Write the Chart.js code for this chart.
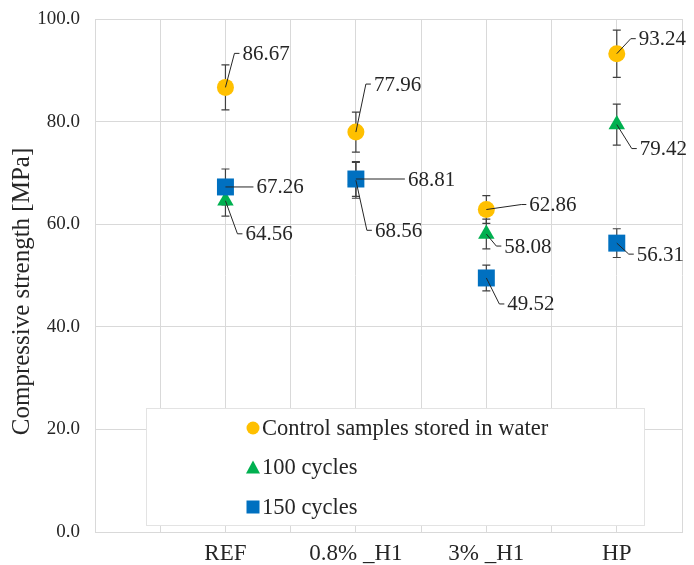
<!DOCTYPE html>
<html lang="en">
<head>
    <meta charset="UTF-8">
    <title>Compressive strength</title>
    <script src="https://cdn.jsdelivr.net/npm/chart.js"></script>
    <style>
        html, body { margin: 0; padding: 0; background: #fff; }
        .chart-box { position: relative; width: 694px; height: 565px; }
    </style>
</head>
<body>
    <div class="chart-box"><canvas id="strengthChart"></canvas></div>

    <script>
        // Data
        const categories = ['REF', '0.8% _H1', '3% _H1', 'HP'];
        const seriesNames = ['Control samples stored in water', '100 cycles', '150 cycles'];
        const controlValues = [86.67, 77.96, 62.86, 93.24];
        const cycles100Values = [64.56, 68.56, 58.08, 79.42];
        const cycles150Values = [67.26, 68.81, 49.52, 56.31];
        const controlErrors = [4.4, 3.9, 2.7, 4.6];
        const cycles100Errors = [3.0, 3.5, 2.9, 4.0];
        const cycles150Errors = [3.5, 3.4, 2.5, 2.8];
        const yTicks = [0, 20, 40, 60, 80, 100];
        const yTitle = 'Compressive strength [MPa]';

        // label placement (pixel offset of the value text from its marker)
        const controlLabelOffsets = [[17, -34], [18, -48], [43, -5], [22, -15]];
        const cycles100LabelOffsets = [[20, 33], [19, 50], [18, 12], [23, 24]];
        const cycles150LabelOffsets = [[31, 0], [52, 0], [21, 26], [20, 11]];

        const serif = '"Liberation Serif", "DejaVu Serif", serif';
        const textColor = '#262626';

        // categories sit on every second slot of a 0..9 linear axis
        const toPoints = (values, errors) =>
            values.map((v, i) => ({ x: (i + 1) * 2, y: v, err: errors[i] }));

        // Error bars - drawn under the markers
        const errorBarPlugin = {
            id: 'errorBars',
            beforeDatasetsDraw(chart) {
                const ctx = chart.ctx;
                const yScale = chart.scales.y;
                ctx.save();
                ctx.strokeStyle = '#404040';
                ctx.lineWidth = 1.2;
                chart.data.datasets.forEach((ds, di) => {
                    chart.getDatasetMeta(di).data.forEach((pt, i) => {
                        const d = ds.data[i];
                        const top = yScale.getPixelForValue(d.y + d.err);
                        const bot = yScale.getPixelForValue(d.y - d.err);
                        ctx.beginPath();
                        ctx.moveTo(pt.x, top); ctx.lineTo(pt.x, bot);
                        ctx.moveTo(pt.x - 4, top); ctx.lineTo(pt.x + 4, top);
                        ctx.moveTo(pt.x - 4, bot); ctx.lineTo(pt.x + 4, bot);
                        ctx.stroke();
                    });
                });
                ctx.restore();
            }
        };

        // Value labels with leader lines
        const valueLabelPlugin = {
            id: 'valueLabels',
            afterDatasetsDraw(chart) {
                const ctx = chart.ctx;
                ctx.save();
                ctx.font = '21px ' + serif;
                ctx.fillStyle = textColor;
                ctx.strokeStyle = '#262626';
                ctx.lineWidth = 1;
                ctx.textBaseline = 'middle';
                chart.data.datasets.forEach((ds, di) => {
                    chart.getDatasetMeta(di).data.forEach((pt, i) => {
                        const [dx, dy] = ds.labelOffsets[i];
                        const tx = pt.x + dx, ty = pt.y + dy;
                        ctx.beginPath();
                        ctx.moveTo(pt.x, pt.y);
                        if (dy === 0) {
                            ctx.lineTo(tx - 3, ty);
                        } else {
                            ctx.lineTo(tx - 8, ty);
                            ctx.lineTo(tx - 3, ty);
                        }
                        ctx.stroke();
                        ctx.fillText(ds.data[i].y.toFixed(2), tx, ty + 1);
                    });
                });
                ctx.restore();
            }
        };

        // Legend box inside the plot area + y axis title
        const boxLegendPlugin = {
            id: 'boxLegend',
            afterDraw(chart) {
                const ctx = chart.ctx;
                const area = chart.chartArea;
                const x = area.left + 51, y = area.bottom - 124;
                const w = 498, h = 117;
                ctx.save();
                ctx.fillStyle = '#fff';
                ctx.strokeStyle = '#e3e3e3';
                ctx.lineWidth = 1;
                ctx.fillRect(x, y, w, h);
                ctx.strokeRect(x + 0.5, y + 0.5, w, h);
                ctx.font = '22.5px ' + serif;
                ctx.textBaseline = 'middle';
                chart.data.datasets.forEach((ds, i) => {
                    const cy = y + 20 + i * 39.5;
                    const cx = x + 107;
                    ctx.fillStyle = ds.backgroundColor;
                    ctx.beginPath();
                    if (ds.pointStyle === 'circle') {
                        ctx.arc(cx, cy, 6.5, 0, Math.PI * 2);
                    } else if (ds.pointStyle === 'triangle') {
                        ctx.moveTo(cx, cy - 7); ctx.lineTo(cx + 7, cy + 6); ctx.lineTo(cx - 7, cy + 6);
                        ctx.closePath();
                    } else {
                        ctx.rect(cx - 6.5, cy - 6.5, 13, 13);
                    }
                    ctx.fill();
                    ctx.fillStyle = textColor;
                    ctx.fillText(ds.label, cx + 9, cy + 1);
                });

                // y title, a bit below the plot centre as in the original
                ctx.translate(22, (area.top + area.bottom) / 2 + 16);
                ctx.rotate(-Math.PI / 2);
                ctx.textAlign = 'center';
                ctx.font = '25px ' + serif;
                ctx.fillText(yTitle, 0, 0);
                ctx.restore();
            }
        };

        const ctx = document.getElementById('strengthChart').getContext('2d');
        const strengthChart = new Chart(ctx, {
            type: 'scatter',
            data: {
                datasets: [
                    {
                        label: seriesNames[0],
                        data: toPoints(controlValues, controlErrors),
                        labelOffsets: controlLabelOffsets,
                        order: 0,
                        pointStyle: 'circle',
                        pointRadius: 8.5,
                        backgroundColor: '#FFC000',
                        borderColor: '#FFC000',
                        borderWidth: 0
                    },
                    {
                        label: seriesNames[1],
                        data: toPoints(cycles100Values, cycles100Errors),
                        labelOffsets: cycles100LabelOffsets,
                        order: 2,
                        pointStyle: 'triangle',
                        pointRadius: 9.5,
                        backgroundColor: '#00B050',
                        borderColor: '#00B050',
                        borderWidth: 0
                    },
                    {
                        label: seriesNames[2],
                        data: toPoints(cycles150Values, cycles150Errors),
                        labelOffsets: cycles150LabelOffsets,
                        order: 1,
                        pointStyle: 'rect',
                        pointRadius: 12,
                        backgroundColor: '#0070C0',
                        borderColor: '#0070C0',
                        borderWidth: 0
                    }
                ]
            },
            options: {
                responsive: true,
                maintainAspectRatio: false,
                animation: false,
                layout: { padding: { top: 19, right: 5, left: 0, bottom: 0 } },
                plugins: {
                    legend: { display: false },
                    tooltip: { enabled: false }
                },
                scales: {
                    x: {
                        type: 'linear',
                        min: 0,
                        max: 9,
                        afterBuildTicks: (scale) => {
                            scale.ticks = Array.from({ length: 10 }, (_, i) => ({ value: i }));
                        },
                        afterFit: (scale) => {
                            scale.height = 33;
                            scale.paddingLeft = 0;
                            scale.paddingRight = 0;
                        },
                        grid: { color: '#d9d9d9', drawTicks: false },
                        border: { color: '#d9d9d9' },
                        ticks: {
                            autoSkip: false,
                            maxRotation: 0,
                            padding: 8,
                            color: textColor,
                            font: { family: serif, size: 23 },
                            callback: (v) => (v % 2 === 0 && v > 0 && v < 9) ? categories[v / 2 - 1] : ''
                        }
                    },
                    y: {
                        min: 0,
                        max: 100,
                        afterBuildTicks: (scale) => {
                            scale.ticks = yTicks.map(v => ({ value: v }));
                        },
                        afterFit: (scale) => {
                            scale.width = 95;
                            scale.paddingTop = 0;
                            scale.paddingBottom = 0;
                        },
                        grid: { color: '#d9d9d9', drawTicks: false },
                        border: { color: '#d9d9d9' },
                        ticks: {
                            padding: 15,
                            color: textColor,
                            font: { family: serif, size: 19 },
                            callback: (v) => v.toFixed(1)
                        },
                        title: { display: false }
                    }
                }
            },
            plugins: [errorBarPlugin, valueLabelPlugin, boxLegendPlugin]
        });
    </script>
</body>
</html>
